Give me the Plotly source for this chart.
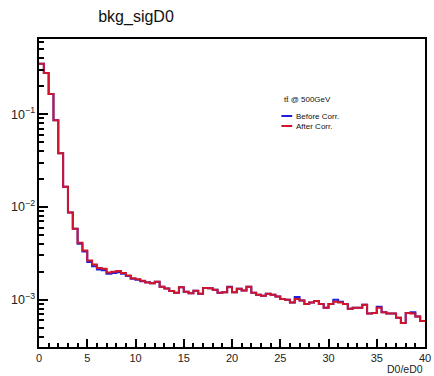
import numpy as np
import plotly.graph_objects as go

bin_width = 0.5
x_min = 0.0
after_corr = [
    0.35, 0.277, 0.165, 0.086, 0.038, 0.0165, 0.0087, 0.0058, 0.0041, 0.0034,
    0.00264, 0.0024, 0.0022, 0.00216, 0.00196, 0.00200, 0.00204, 0.00194, 0.00182, 0.00170,
    0.00166, 0.00160, 0.00153, 0.00150, 0.00156, 0.00138, 0.00132, 0.00124, 0.00119, 0.00136,
    0.00122, 0.00117, 0.00125, 0.00116, 0.00134, 0.00133, 0.00128, 0.00119, 0.00120, 0.00136,
    0.00120, 0.00131, 0.00126, 0.00138, 0.00119, 0.00113, 0.00110, 0.00116, 0.00113, 0.00108,
    0.00102, 0.00100, 0.00093, 0.00102, 0.00098, 0.00090, 0.00093, 0.00097, 0.00090, 0.00082,
    0.00090, 0.00095, 0.00093, 0.00090, 0.00080, 0.00082, 0.00082, 0.00088, 0.00071, 0.00072,
    0.00082, 0.00073, 0.00071, 0.00071, 0.00064, 0.00056, 0.00072, 0.00071, 0.00066, 0.00059,
]
before_corr = [
    0.35, 0.277, 0.165, 0.086, 0.038, 0.0165, 0.0087, 0.0058, 0.0040, 0.0033,
    0.00255, 0.00230, 0.00212, 0.00208, 0.00190, 0.00194, 0.00198, 0.00190, 0.00180, 0.00168,
    0.00164, 0.00158, 0.00154, 0.00150, 0.00156, 0.00138, 0.00132, 0.00124, 0.00119, 0.00136,
    0.00122, 0.00117, 0.00125, 0.00116, 0.00134, 0.00133, 0.00128, 0.00119, 0.00120, 0.00138,
    0.00120, 0.00131, 0.00126, 0.00138, 0.00119, 0.00113, 0.00110, 0.00116, 0.00113, 0.00108,
    0.00102, 0.00100, 0.00093, 0.00107, 0.00098, 0.00090, 0.00093, 0.00097, 0.00090, 0.00082,
    0.00090, 0.00100, 0.00095, 0.00090, 0.00080, 0.00082, 0.00082, 0.00088, 0.00071, 0.00072,
    0.00084, 0.00073, 0.00071, 0.00071, 0.00064, 0.00056, 0.00072, 0.00073, 0.00066, 0.00059,
]
x_ticks = [0, 5, 10, 15, 20, 25, 30, 35, 40]
title_text = "bkg_sigD0"
x_title = "D0/eD0"
legend_title = "tt\u0304 @ 500GeV"
series_names = ["Before Corr.", "After Corr."]
series_colors = ["#2020d8", "#d0142c"]

def step_xy(vals):
    n = len(vals)
    edges = x_min + bin_width * np.arange(n + 1)
    ys = list(vals) + [vals[-1]]
    return edges, ys

fig = go.Figure()
for vals, name, col in zip([before_corr, after_corr], series_names, series_colors):
    xs, ys = step_xy(vals)
    fig.add_trace(go.Scatter(x=xs, y=ys, mode="lines", line_shape="hv",
                             line=dict(color=col, width=2), name=name, showlegend=False))

# Legend drawn as annotations + short line samples (ROOT TLegend style)
annotations = [
    dict(text=x_title, xref="paper", yref="paper", x=1.0, y=0,
         xanchor="right", yanchor="top", yshift=-14, showarrow=False,
         font=dict(size=10.5, color="#222")),
    dict(text=legend_title, xref="paper", yref="paper", x=0.630, y=0.802,
         xanchor="left", yanchor="middle", showarrow=False, font=dict(size=8, color="#111")),
]
shapes = []
leg_y = [0.750, 0.7175]
for name, col, yy in zip(series_names, series_colors, leg_y):
    shapes.append(dict(type="line", xref="paper", yref="paper", x0=0.628, x1=0.656,
                       y0=yy, y1=yy, line=dict(color=col, width=2)))
    annotations.append(dict(text=name, xref="paper", yref="paper", x=0.661, y=yy,
                            xanchor="left", yanchor="middle", showarrow=False,
                            font=dict(size=8, color="#111")))

fig.update_layout(
    width=434, height=376,
    margin=dict(l=39, r=3, t=39, b=29),
    paper_bgcolor="white", plot_bgcolor="white",
    font=dict(family="Liberation Sans, Arial, sans-serif", color="#222"),
    title=dict(text=title_text, x=136/434, xanchor="center", y=1-16/376, yanchor="middle",
               font=dict(size=16, color="#111")),
    showlegend=False,
    xaxis=dict(range=[0, 40], tickvals=x_ticks, showgrid=False, zeroline=False,
               showline=True, mirror=True, linecolor="black", linewidth=2,
               ticks="inside", ticklen=8, tickwidth=1.5, tickcolor="black",
               tickfont=dict(size=11), ticklabeloverflow="allow",
               minor=dict(ticks="inside", dtick=1, ticklen=4, tickcolor="black", showgrid=False)),
    yaxis=dict(type="log", range=[-3.51, -0.19], dtick=1, exponentformat="power",
               showgrid=False, zeroline=False,
               showline=True, mirror=True, linecolor="black", linewidth=2,
               ticks="inside", ticklen=9, tickwidth=1.5, tickcolor="black",
               tickfont=dict(size=10),
               minor=dict(ticks="inside", dtick="D1", ticklen=5, tickcolor="black", showgrid=False)),
    annotations=annotations,
    shapes=shapes,
)

fig.write_html("out.html")
